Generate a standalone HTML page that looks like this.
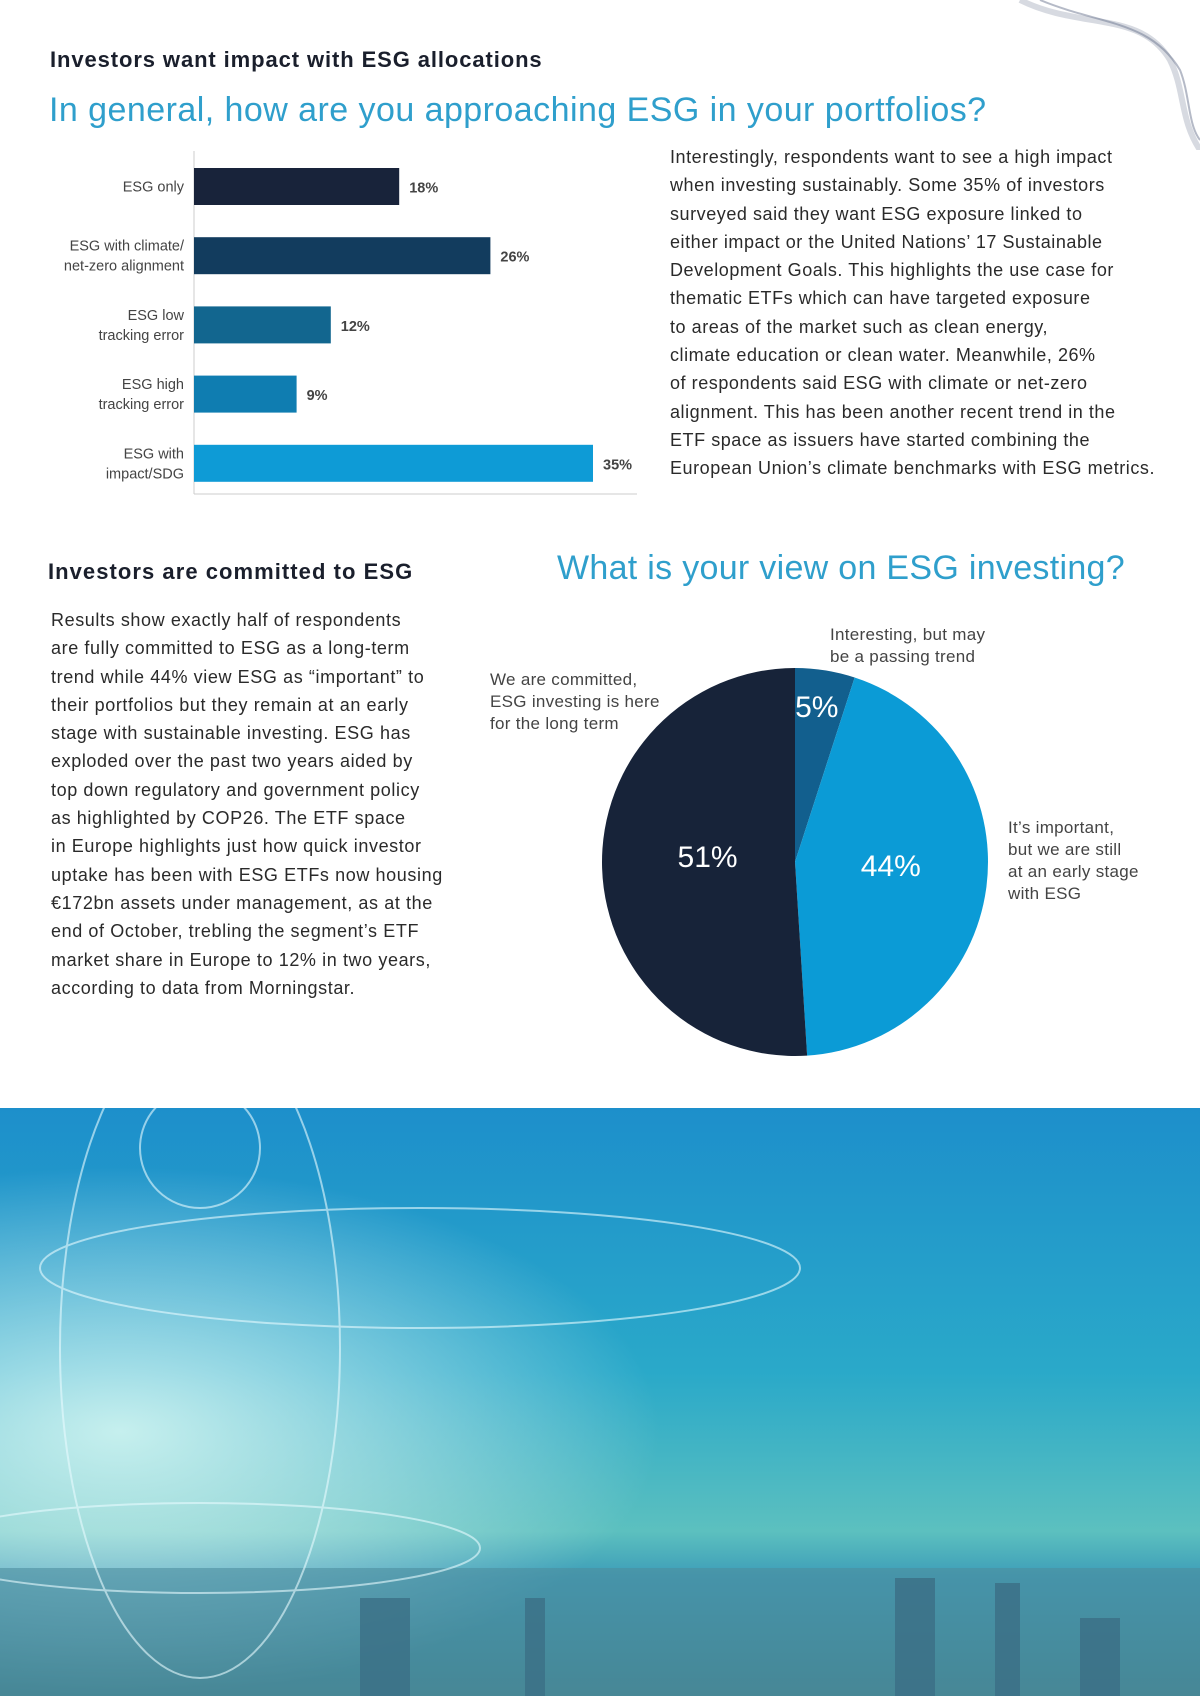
<!DOCTYPE html>
<html><head><meta charset="utf-8">
<style>
*{margin:0;padding:0;box-sizing:border-box}
body{width:1200px;height:1696px;position:relative;background:#fff;font-family:"Liberation Sans",sans-serif;overflow:hidden;color:#222}
.abs{position:absolute}
.h1{left:50px;top:47px;font-size:22px;font-weight:bold;color:#1a1f2c;letter-spacing:0.9px;white-space:nowrap}
.q{color:#2f9fcc;font-size:34px;white-space:nowrap;letter-spacing:0.45px}
.p{font-size:18px;line-height:28.3px;color:#2a2a2a;letter-spacing:0.55px;white-space:nowrap}
.lab{font-size:17px;color:#444;line-height:22px;white-space:nowrap;letter-spacing:0.3px}
</style></head><body>
<svg class="abs" style="left:1000px;top:0" width="200" height="150">
<path d="M20,0 C80,30 140,10 170,60 C185,90 180,120 200,150" stroke="#9aa3b5" stroke-width="6" fill="none" opacity="0.4"/>
<path d="M40,0 C100,25 150,20 180,70 C190,95 188,125 200,140" stroke="#6c7690" stroke-width="2" fill="none" opacity="0.5"/>
</svg>
<div class="abs h1">Investors want impact with ESG allocations</div>
<div class="abs q" style="left:49px;top:91px">In general, how are you approaching ESG in your portfolios?</div>

<svg id="bar" class="abs" style="left:0;top:0" width="660" height="520"></svg>

<div class="abs p" style="left:670px;top:143px">Interestingly, respondents want to see a high impact<br>when investing sustainably. Some 35% of investors<br>surveyed said they want ESG exposure linked to<br>either impact or the United Nations’ 17 Sustainable<br>Development Goals. This highlights the use case for<br>thematic ETFs which can have targeted exposure<br>to areas of the market such as clean energy,<br>climate education or clean water. Meanwhile, 26%<br>of respondents said ESG with climate or net-zero<br>alignment. This has been another recent trend in the<br>ETF space as issuers have started combining the<br>European Union’s climate benchmarks with ESG metrics.</div>

<div class="abs h1" style="left:48px;top:559px;letter-spacing:1.05px">Investors are committed to ESG</div>
<div class="abs q" style="left:557px;top:549px;letter-spacing:0.3px">What is your view on ESG investing?</div>
<div class="abs p" style="left:51px;top:606px;letter-spacing:0.6px">Results show exactly half of respondents<br>are fully committed to ESG as a long-term<br>trend while 44% view ESG as “important” to<br>their portfolios but they remain at an early<br>stage with sustainable investing. ESG has<br>exploded over the past two years aided by<br>top down regulatory and government policy<br>as highlighted by COP26. The ETF space<br>in Europe highlights just how quick investor<br>uptake has been with ESG ETFs now housing<br>€172bn assets under management, as at the<br>end of October, trebling the segment’s ETF<br>market share in Europe to 12% in two years,<br>according to data from Morningstar.</div>

<svg id="pie" class="abs" style="left:0;top:0" width="1200" height="1108"></svg>
<div class="abs lab" style="left:490px;top:669px">We are committed,<br>ESG investing is here<br>for the long term</div>
<div class="abs lab" style="left:830px;top:624px">Interesting, but may<br>be a passing trend</div>
<div class="abs lab" style="left:1008px;top:817px">It’s important,<br>but we are still<br>at an early stage<br>with ESG</div>

<svg class="abs" style="left:0;top:1108px" width="1200" height="588">
<defs><linearGradient id="sky" x1="0" y1="0" x2="0" y2="1">
<stop offset="0" stop-color="#1d8fcb"/><stop offset="0.45" stop-color="#2aa9c9"/><stop offset="0.72" stop-color="#5cc0bf"/><stop offset="0.8" stop-color="#3c9cb8"/><stop offset="1" stop-color="#3f7d8a"/></linearGradient>
<radialGradient id="glow" cx="0.1" cy="0.55" r="0.45"><stop offset="0" stop-color="#e8fff8" stop-opacity="0.8"/><stop offset="1" stop-color="#ffffff" stop-opacity="0"/></radialGradient></defs>
<rect width="1200" height="588" fill="url(#sky)"/>
<rect width="1200" height="588" fill="url(#glow)"/>
<rect x="0" y="460" width="1200" height="128" fill="#4d8e9e" opacity="0.6"/>
<g fill="#3b6f86" opacity="0.8"><rect x="360" y="490" width="50" height="98"/><rect x="525" y="490" width="20" height="98"/><rect x="895" y="470" width="40" height="118"/><rect x="995" y="475" width="25" height="113"/><rect x="1080" y="510" width="40" height="78"/></g>
<g fill="none" stroke="#e8fbff" stroke-width="2" opacity="0.6"><ellipse cx="420" cy="160" rx="380" ry="60"/><ellipse cx="200" cy="440" rx="280" ry="45"/><ellipse cx="200" cy="240" rx="140" ry="330"/><circle cx="200" cy="40" r="60"/></g>
</svg>

<script>
const categories=["ESG only","ESG with climate/|net-zero alignment","ESG low|tracking error","ESG high|tracking error","ESG with|impact/SDG"];
const values=[18,26,12,9,35];
const valueLabels=["18%","26%","12%","9%","35%"];
const barColors=["#18233a","#123c5e","#12668f","#0f7db1","#0e9bd6"];
const NS="http://www.w3.org/2000/svg";
const bar=document.getElementById('bar');
const x0=194, pxPerPct=11.4, bandTop=168, band=69.2, barH=37;
const xs=v=>x0+v*pxPerPct;
function mk(tag,at,parent){const e=document.createElementNS(NS,tag);for(const k in at)e.setAttribute(k,at[k]);parent.appendChild(e);return e;}
const ax=mk('line',{x1:x0,y1:151,x2:x0,y2:494,stroke:'#ccc','stroke-width':1},bar);


const bl=mk('line',{x1:x0,y1:494,x2:637,y2:494,stroke:'#ccc','stroke-width':1},bar);


values.forEach((v,i)=>{
  const y=bandTop+i*band;
  const r=mk('rect',{x:x0,y:y,width:xs(v)-x0,height:barH,fill:barColors[i]},bar);
  
  
  const t=mk('text',{x:xs(v)+10,y:y+barH/2+6,'font-size':14.5,'font-weight':'bold',fill:'#444','font-family':'Liberation Sans, sans-serif'},bar);
  t.textContent=valueLabels[i];
  
  
  const lines=categories[i].split('|');
  const t2=mk('text',{x:x0-10,'text-anchor':'end','font-size':14.5,fill:'#444','font-family':'Liberation Sans, sans-serif'},bar);
  
  
  lines.forEach((ln,j)=>{const s=mk('tspan',{x:x0-10,y:y+barH/2+5+(j-(lines.length-1)/2)*20},t2);s.textContent=ln;});
});

const pieNames=["Interesting, but may be a passing trend","It's important, but early stage","We are committed"];
const pieValues=[5,44,51];
const pieLabels=["5%","44%","51%"];
const pieColors=["#125f8e","#0b9bd6","#172339"];
const pie=document.getElementById('pie');
const cx=795,cy=862,rx=193,ry=194;
const total=pieValues.reduce((a,b)=>a+b,0);
let acc=0;
pieValues.forEach((v,i)=>{
  const a0=acc/total*2*Math.PI; acc+=v; const a1=acc/total*2*Math.PI;
  const P=a=>[cx+rx*Math.sin(a),cy-ry*Math.cos(a)];
  const p0=P(a0),p1=P(a1);
  const large=(a1-a0)>Math.PI?1:0;
  const path=mk('path',{d:`M${cx},${cy} L${p0[0]},${p0[1]} A${rx},${ry} 0 ${large} 1 ${p1[0]},${p1[1]} Z`,fill:pieColors[i]},pie);
  
  
  const am=(a0+a1)/2; const f=i==0?0.82:0.5;
  const dx=i==2?9:(i==0?-3:0);
  const t=mk('text',{x:cx+rx*f*Math.sin(am)+dx,y:cy-ry*f*Math.cos(am)+(i==0?12:2),'text-anchor':'middle','font-size':30,fill:'#fff','font-family':'Liberation Sans, sans-serif'},pie);
  t.textContent=pieLabels[i];
  
  
});
</script>
</body></html>
